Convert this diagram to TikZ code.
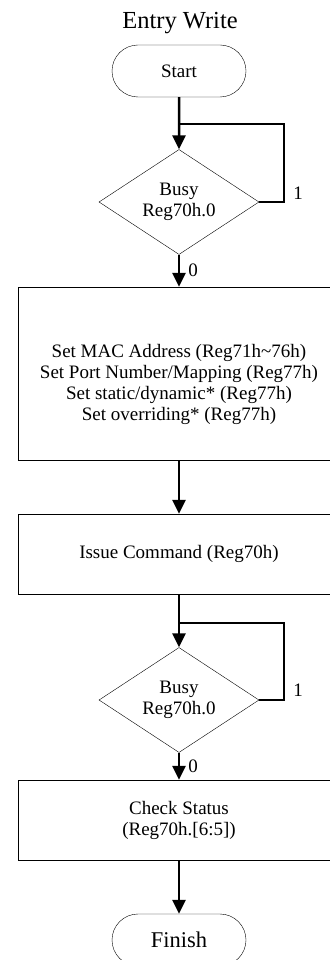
\documentclass[tikz,border=0pt]{standalone}
\usepackage{fontspec}
\setmainfont{Liberation Serif}
\usetikzlibrary{shapes}
\usetikzlibrary {arrows.meta}

\tikzset{
  terminal/.style={rounded rectangle,draw,thin,minimum width=134pt,minimum height=52pt,inner sep=0pt},
  decision/.style={diamond,draw,thin,minimum width=160pt,minimum height=105pt,inner sep=0pt,aspect=1.52,align=center},
  procbox/.style={rectangle,draw,thin,minimum width=322pt,inner sep=0pt,align=center},
  flow/.style={-{Triangle[length=14pt,width=13pt]},line width=2.5pt},
  loopline/.style={line width=2.5pt},
  lbl/.style={font=\fontsize{19}{21}\selectfont}
}

\begin{document}
\begin{tikzpicture}[x=1pt,y=-1pt,lbl]
\useasboundingbox (0,0) rectangle (329,960);

\node[font=\fontsize{24.5}{26}\selectfont] (title) at (180,23){Entry Write};

\node[terminal] (start) at (179,71){Start};
\node[decision] (busy1) at (179,202){Busy\\Reg70h.0};
\node[procbox,minimum height=173pt] (setup) at (179,373.5){};
\node[align=center] (setuptext) at (179,384){Set MAC Address (Reg71h\textasciitilde76h)\\Set Port Number/Mapping (Reg77h)\\Set static/dynamic* (Reg77h)\\Set overriding* (Reg77h)};
\node[procbox,minimum height=80pt] (issue) at (179,554){Issue Command (Reg70h)};
\node[decision] (busy2) at (179,700){Busy\\Reg70h.0};
\node[procbox,minimum height=80pt] (check) at (179,820){Check Status\\(Reg70h.[6:5])};
\node[terminal,font=\fontsize{22.5}{24}\selectfont] (finish) at (179,940){Finish};

\coordinate (loop1) at (284,124);
\coordinate (join1) at (179,124);
\coordinate (loop2) at (284,623);
\coordinate (join2) at (179,623);

\draw [flow] (start) -- (busy1);
\draw [loopline] (busy1.east) -| (loop1) -- (join1);
\node (one1) at (298,193){1};
\draw [flow] (busy1) -- node[anchor=west,inner sep=0pt,xshift=8pt]{0} (setup);

\draw [flow] (setup) -- (issue);
\draw [flow] (issue) -- (busy2);
\draw [loopline] (busy2.east) -| (loop2) -- (join2);
\node (one2) at (298,690){1};
\draw [flow] (busy2) -- node[anchor=west,inner sep=0pt,xshift=8pt]{0} (check);

\draw [flow] (check) -- (finish);

\end{tikzpicture}
\end{document}
